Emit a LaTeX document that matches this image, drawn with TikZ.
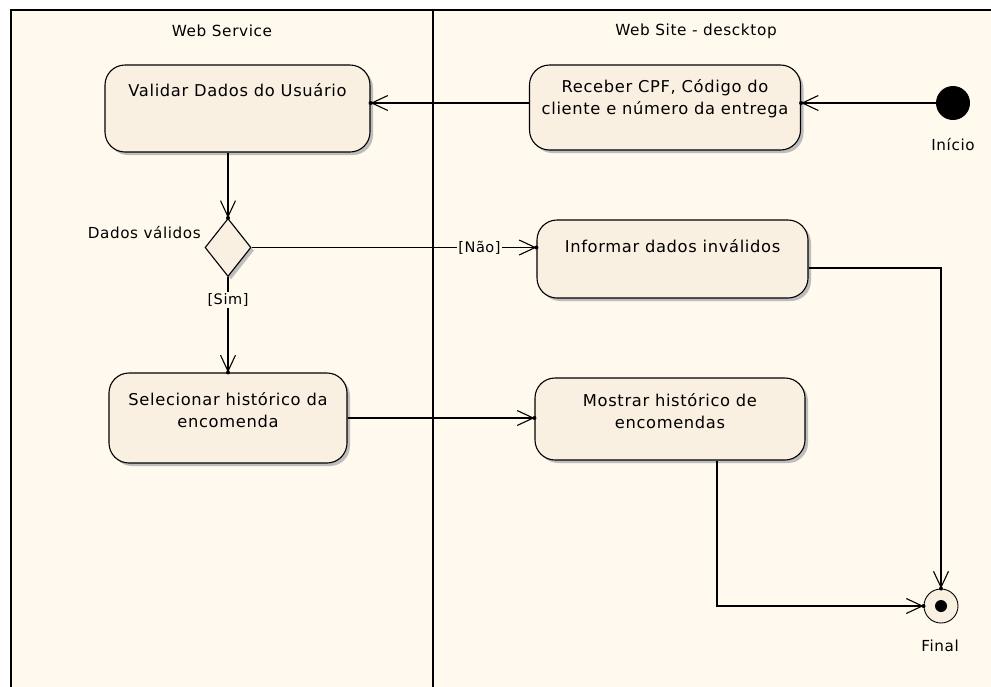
\documentclass[tikz,border=0pt]{standalone}
\usepackage{fontspec}
\setmainfont{DejaVu Sans}[LetterSpace=4]
\usetikzlibrary{arrows.meta,shapes.geometric,shadows,calc}
\definecolor{lanebg}{HTML}{FFF9EE}
\definecolor{actfill}{HTML}{FAF0E2}
\definecolor{shade}{HTML}{BDBDBD}
\begin{document}
\begin{tikzpicture}[x=1pt,y=-1pt,
  action/.style={draw=black, line width=1.1pt, fill=actfill, rounded corners=20pt,
    drop shadow={shadow xshift=3pt, shadow yshift=-3pt, fill=shade, opacity=1},
    inner sep=0pt},
  atext/.style={align=center, inner sep=0pt, font=\fontsize{16.3}{22}\selectfont},
  flow/.style={line width=1.1pt, -{Straight Barb[length=16pt,width=15pt,line width=1.1pt]}},
  plain/.style={line width=1.1pt},
  tipdot/.style={fill=black},
  guard/.style={fill=lanebg, inner sep=1.5pt, font=\fontsize{14.5}{18}\selectfont},
  caption/.style={inner sep=0pt, font=\fontsize{15.2}{18}\selectfont},
  lanetitle/.style={inner sep=0pt, font=\fontsize{15.3}{18}\selectfont}
]
\useasboundingbox (0,0) rectangle (991,686);
\clip (0,0) rectangle (991,686);
\fill[white] (0,0) rectangle (991,686);

% swimlane frame and divider
\draw[line width=2.6pt, fill=lanebg] (11,10) rectangle (1030,720);
\draw[line width=1.2pt] (433,10) -- (433,720);
\node[lanetitle] (laneWS) at (222,31) {Web Service};
\node[lanetitle] (laneSite) at (696,31) {Web Site - descktop};

% actions
\node[action, minimum width=265pt, minimum height=87pt,
  label={[atext, yshift=18.5pt]center:Validar Dados do Usuário}] (validar) at (237.5,108.5) {};
\node[action, minimum width=271pt, minimum height=85pt,
  label={[atext, yshift=8.5pt]center:{Receber CPF, Código do\\cliente e número da entrega}}] (receber) at (665,107.5) {};
\node[action, minimum width=271pt, minimum height=78pt,
  label={[atext, yshift=13pt]center:Informar dados inválidos}] (informar) at (672.5,259) {};
\node[action, minimum width=238pt, minimum height=90pt,
  label={[atext, yshift=8pt]center:{Selecionar histórico da\\encomenda}}] (selecionar) at (228,418) {};
\node[action, minimum width=270pt, minimum height=82pt,
  label={[atext, yshift=8pt]center:{Mostrar histórico de\\encomendas}}] (mostrar) at (670,419) {};

% decision
\node[diamond, draw=black, line width=1.1pt, fill=actfill, inner sep=0pt,
  minimum width=46pt, minimum height=58pt,
  drop shadow={shadow xshift=3pt, shadow yshift=-3pt, fill=shade, opacity=1}] (dec) at (228,247.5) {};
\node[caption, anchor=east] (declbl) at (201,233) {Dados válidos};

% initial and final nodes
\node[circle, fill=black, minimum size=34pt, inner sep=0pt] (start) at (953,103) {};
\node[caption] (startlbl) at (953,145) {Início};
\node[circle, draw=black, line width=0.9pt, fill=actfill, minimum size=34pt, inner sep=0pt] (final) at (941,606) {};
\fill (final.center) circle (6pt);
\node[caption] (finallbl) at (940,646) {Final};

% flows
\coordinate (t1) at (start.west -| receber.east);
\coordinate (t2) at (receber.west |- start.west);
\coordinate (t3) at (validar.east |- start.west);
\coordinate (t4) at (dec.north |- validar.south);
\coordinate (t5) at (dec.east -| informar.west);
\coordinate (t6) at (selecionar.east -| mostrar.west);
\coordinate (t7) at ([yshift=-9pt]informar.east);
\coordinate (t8) at ([xshift=47pt]mostrar.south);

\draw[flow] (start.west) -- (t1);
\draw[flow] (t2) -- (t3);
\draw[flow] (t4) -- (dec.north);
\draw[flow] (dec.east) -- node[guard, pos=0.8] {[Não]} (t5);
\draw[flow] (dec.south) -- node[guard, pos=0.24] {[Sim]} (selecionar.north);
\draw[flow] (selecionar.east) -- (t6);
\draw[flow] (t7) -| (final.north);
\draw[flow] (t8) |- (final.west);

% small dots where flows meet their targets
\foreach \p in {t1,t3,dec.north,t5,selecionar.north,t6,final.north,final.west}
  \fill[tipdot] (\p) circle (2pt);
\end{tikzpicture}
\end{document}
